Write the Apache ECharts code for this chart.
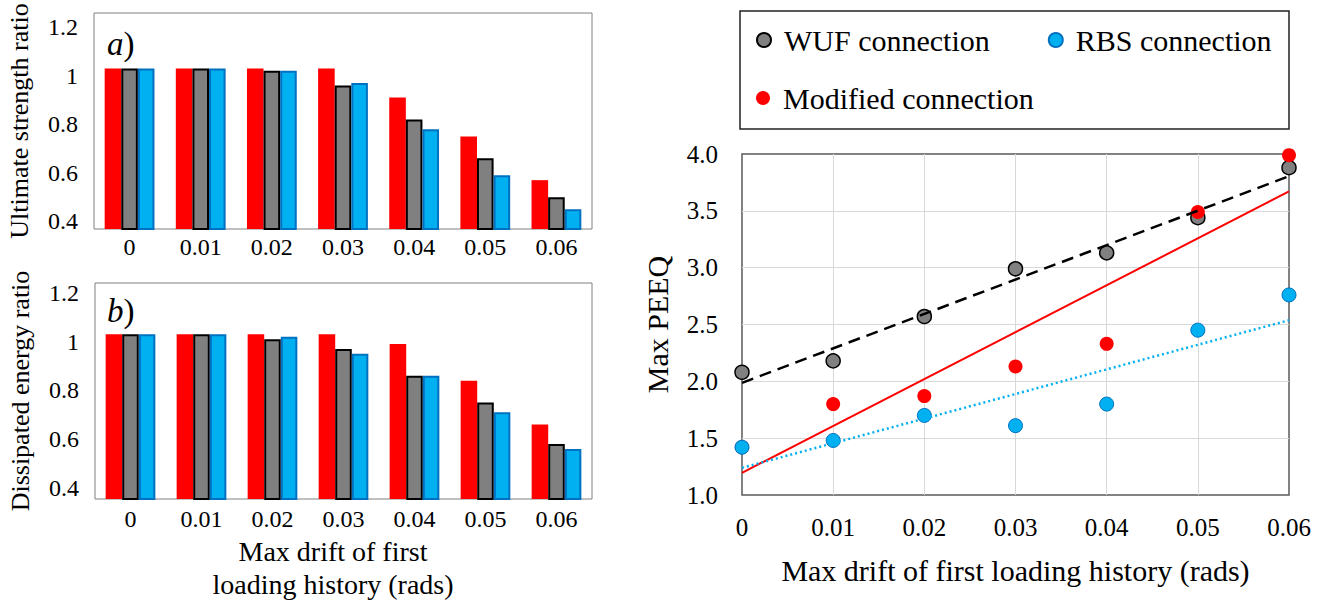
<!DOCTYPE html>
<html><head><meta charset="utf-8">
<script src="https://cdn.jsdelivr.net/npm/echarts@6/dist/echarts.min.js"></script>
<style>html,body{margin:0;padding:0;background:#fff}#c{width:1324px;height:600px}</style>
</head><body><div id="c"></div>
<script>
// ---- data ----
const categories = ['0', '0.01', '0.02', '0.03', '0.04', '0.05', '0.06'];
const strengthModified = [1.03, 1.03, 1.03, 1.03, 0.91, 0.75, 0.57];
const strengthWUF      = [1.03, 1.03, 1.02, 0.96, 0.82, 0.66, 0.50];
const strengthRBS      = [1.03, 1.03, 1.02, 0.97, 0.78, 0.59, 0.45];
const energyModified   = [1.03, 1.03, 1.03, 1.03, 0.99, 0.84, 0.66];
const energyWUF        = [1.03, 1.03, 1.01, 0.97, 0.86, 0.75, 0.58];
const energyRBS        = [1.03, 1.03, 1.02, 0.95, 0.86, 0.71, 0.56];
const ratioTicks = [0.4, 0.6, 0.8, 1, 1.2];

const drift        = [0, 0.01, 0.02, 0.03, 0.04, 0.05, 0.06];
const peeqWUF      = [2.08, 2.18, 2.57, 2.99, 3.13, 3.44, 3.88];
const peeqRBS      = [1.42, 1.48, 1.70, 1.61, 1.80, 2.45, 2.76];
const peeqModified = [1.42, 1.80, 1.87, 2.13, 2.33, 3.49, 3.99];

// ---- helpers ----
const FONT = '"Liberation Serif", "Times New Roman", serif';
const RED = '#FF0000', GRAY = '#808080', BLUE = '#00B0F0', BLUE_EDGE = '#0070C0';
function pairs(xs, ys) { return xs.map((x, i) => [x, ys[i]]); }
function trend(xs, ys) {
  const n = xs.length;
  const mx = xs.reduce((a, b) => a + b, 0) / n, my = ys.reduce((a, b) => a + b, 0) / n;
  let sxy = 0, sxx = 0;
  for (let i = 0; i < n; i++) { sxy += (xs[i] - mx) * (ys[i] - my); sxx += (xs[i] - mx) ** 2; }
  const b = sxy / sxx, a = my - b * mx;
  return [[xs[0], a + b * xs[0]], [xs[n - 1], a + b * xs[n - 1]]];
}
const txt = (size, extra) => Object.assign({ fontFamily: FONT, fontSize: size, color: '#000' }, extra || {});

function ratioYAxis(grid, min, max, name) {
  return {
    gridIndex: grid, type: 'value', min: min, max: max,
    axisLabel: { customValues: ratioTicks, margin: 16, ...txt(24) },
    axisTick: { show: false }, axisLine: { show: false }, splitLine: { show: false },
    name: name, nameLocation: 'middle', nameGap: 62, nameTextStyle: txt(26)
  };
}
function catXAxis(grid, margin) {
  return {
    gridIndex: grid, type: 'category', data: categories,
    axisTick: { show: false }, axisLine: { show: false },
    axisLabel: { margin: margin, ...txt(24) }
  };
}
function barSeries(name, data, axis, color, edge) {
  return {
    name: name, type: 'bar', xAxisIndex: axis, yAxisIndex: axis, data: data,
    barGap: '0%', barCategoryGap: '30%',
    itemStyle: { color: color, borderColor: edge || color, borderWidth: edge ? 2 : 0 }
  };
}

const chart = echarts.init(document.getElementById('c'), null, { renderer: 'svg' });
chart.setOption({
  animation: false,
  backgroundColor: '#fff',
  grid: [
    { left: 94, top: 13, width: 498, height: 216, show: true, borderColor: '#808080', borderWidth: 1 },
    { left: 95, top: 283, width: 497, height: 216, show: true, borderColor: '#808080', borderWidth: 1 },
    { left: 742, top: 154, width: 547, height: 341, show: true, borderColor: '#595959', borderWidth: 1.5 }
  ],
  xAxis: [
    catXAxis(0, 6),
    catXAxis(1, 8),
    {
      gridIndex: 2, type: 'value', min: 0, max: 0.06, interval: 0.01,
      axisLabel: { margin: 20, formatter: v => (v === 0 ? '0' : v.toFixed(2)), ...txt(25) },
      axisTick: { show: false }, axisLine: { show: false },
      splitLine: { show: true, showMinLine: false, showMaxLine: false, lineStyle: { color: '#d9d9d9', width: 1 } },
      name: 'Max drift of first loading history (rads)', nameLocation: 'middle', nameGap: 60,
      nameTextStyle: txt(30)
    }
  ],
  yAxis: [
    ratioYAxis(0, 0.369, 1.258, 'Ultimate strength ratio'),
    ratioYAxis(1, 0.355, 1.24, 'Dissipated energy ratio'),
    {
      gridIndex: 2, type: 'value', min: 1, max: 4, interval: 0.5,
      axisLabel: { margin: 24, formatter: v => v.toFixed(1), ...txt(25) },
      axisTick: { show: false }, axisLine: { show: false },
      splitLine: { show: true, showMinLine: false, showMaxLine: false, lineStyle: { color: '#d9d9d9', width: 1 } },
      name: 'Max PEEQ', nameLocation: 'middle', nameGap: 70, nameTextStyle: txt(30)
    }
  ],
  legend: [
    {
      data: ['WUF connection', 'RBS connection'], left: 756, top: 25, padding: 0, itemGap: 58,
      icon: 'circle', itemWidth: 30, itemHeight: 14, selectedMode: false,
      textStyle: txt(30, { lineHeight: 30 })
    },
    {
      data: ['Modified connection'], left: 756, top: 83, padding: 0,
      icon: 'circle', itemWidth: 30, itemHeight: 14, selectedMode: false,
      textStyle: txt(30, { lineHeight: 30 })
    }
  ],
  graphic: [
    { type: 'rect', shape: { x: 740, y: 11, width: 549, height: 118 }, style: { fill: 'none', stroke: '#222', lineWidth: 1.5 } },
    { type: 'text', x: 107, y: 44, style: { text: '{i|a})', verticalAlign: 'middle', fontFamily: FONT, fontSize: 33, fill: '#000', rich: { i: { fontStyle: 'italic', fontFamily: FONT, fontSize: 33 } } } },
    { type: 'text', x: 107, y: 311, style: { text: '{i|b})', verticalAlign: 'middle', fontFamily: FONT, fontSize: 33, fill: '#000', rich: { i: { fontStyle: 'italic', fontFamily: FONT, fontSize: 33 } } } },
    { type: 'text', x: 333, y: 551, style: { text: 'Max drift of first', align: 'center', verticalAlign: 'middle', fontFamily: FONT, fontSize: 28, fill: '#000' } },
    { type: 'text', x: 333, y: 584, style: { text: 'loading history (rads)', align: 'center', verticalAlign: 'middle', fontFamily: FONT, fontSize: 28, fill: '#000' } }
  ],
  series: [
    barSeries('Modified (strength)', strengthModified, 0, RED),
    barSeries('WUF (strength)', strengthWUF, 0, GRAY, '#000'),
    barSeries('RBS (strength)', strengthRBS, 0, BLUE, BLUE_EDGE),
    barSeries('Modified (energy)', energyModified, 1, RED),
    barSeries('WUF (energy)', energyWUF, 1, GRAY, '#000'),
    barSeries('RBS (energy)', energyRBS, 1, BLUE, BLUE_EDGE),
    {
      name: 'WUF connection', type: 'scatter', xAxisIndex: 2, yAxisIndex: 2, data: pairs(drift, peeqWUF),
      symbol: 'circle', symbolSize: 14, itemStyle: { color: GRAY, borderColor: '#000', borderWidth: 1.5, opacity: 1 }
    },
    {
      name: 'Modified connection', type: 'scatter', xAxisIndex: 2, yAxisIndex: 2, data: pairs(drift, peeqModified),
      symbol: 'circle', symbolSize: 14, itemStyle: { color: RED, opacity: 1 }
    },
    {
      name: 'RBS connection', type: 'scatter', xAxisIndex: 2, yAxisIndex: 2, data: pairs(drift, peeqRBS),
      symbol: 'circle', symbolSize: 14, itemStyle: { color: BLUE, borderColor: BLUE_EDGE, borderWidth: 1, opacity: 1 }
    },
    {
      name: 'WUF trend', type: 'line', xAxisIndex: 2, yAxisIndex: 2, data: trend(drift, peeqWUF),
      symbol: 'none', silent: true, lineStyle: { color: '#000', width: 2.5, type: [12, 7] }
    },
    {
      name: 'Modified trend', type: 'line', xAxisIndex: 2, yAxisIndex: 2, data: trend(drift, peeqModified),
      symbol: 'none', silent: true, lineStyle: { color: RED, width: 2 }
    },
    {
      name: 'RBS trend', type: 'line', xAxisIndex: 2, yAxisIndex: 2, data: trend(drift, peeqRBS),
      symbol: 'none', silent: true, lineStyle: { color: BLUE, width: 2.5, type: [2, 3] }
    }
  ]
});
</script></body></html>
